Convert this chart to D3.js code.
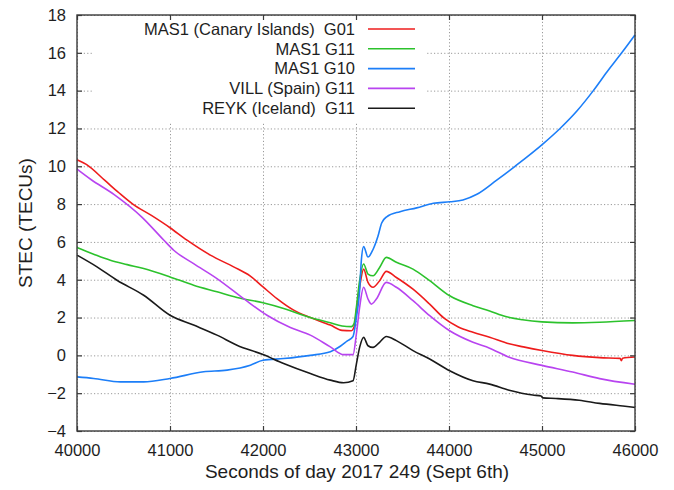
<!DOCTYPE html>
<meta charset="utf-8">
<head>
    <script src="https://d3js.org/d3.v7.min.js"></script>
    <style>
        body {
            margin: 0px;
            padding: 0px;
            background: white;
            font-family: 'Liberation Sans', Arial, sans-serif;
        }

        .tick text {
            font-size: 16.5px;
            fill: #1e1e1e;
        }

        .grid line {
            stroke: #9a9a9a;
            stroke-width: 1;
            stroke-dasharray: 1.2, 2.2;
        }
    </style>
    <title>STEC</title>
</head>

<body>
    <div id="chart"></div>

    <script>
        // series: [seconds of day, STEC]
        var mas1G01 = [[40000, 10.35], [40100, 10.1], [40300, 9.25], [40450, 8.6], [40600, 8.0], [40800, 7.4],
            [41000, 6.75], [41183, 6.09], [41434, 5.3], [41684, 4.68], [41864, 4.19], [42000, 3.62], [42150, 3.0],
            [42330, 2.39], [42509, 2.0], [42724, 1.6], [42850, 1.32], [42950, 1.3], [42985, 1.6], [43004, 2.36],
            [43039, 3.6], [43082, 4.56], [43129, 3.86], [43183, 3.6], [43254, 3.95], [43326, 4.44], [43434, 4.12],
            [43613, 3.5], [43792, 2.71], [43950, 1.95], [44100, 1.5], [44258, 1.22], [44437, 0.96], [44647, 0.61],
            [44800, 0.45], [45000, 0.26], [45330, 0.0], [45620, -0.12], [45840, -0.16], [45853, -0.28], [45866, -0.15],
            [46000, -0.09]];

        var mas1G11 = [[40000, 5.7], [40179, 5.35], [40358, 5.03], [40540, 4.8], [40717, 4.59], [41000, 4.15],
            [41254, 3.71], [41505, 3.36], [41720, 3.06], [42000, 2.78], [42222, 2.48], [42509, 2.0], [42724, 1.72],
            [42850, 1.55], [42950, 1.52], [42980, 1.7], [43004, 2.54], [43039, 3.95], [43082, 4.83], [43129, 4.3],
            [43183, 4.21], [43254, 4.65], [43326, 5.18], [43434, 4.92], [43613, 4.56], [43792, 3.95], [44007, 3.15],
            [44258, 2.63], [44437, 2.35], [44610, 2.05], [44790, 1.88], [45000, 1.77], [45330, 1.72], [45620, 1.75],
            [46000, 1.84]];

        var mas1G10 = [[40000, -1.14], [40179, -1.22], [40466, -1.4], [40717, -1.4], [41000, -1.22], [41362, -0.87],
            [41613, -0.78], [41864, -0.52], [42000, -0.26], [42222, -0.17], [42509, 0.0], [42724, 0.19], [42831, 0.48],
            [42903, 0.75], [42968, 1.0], [43004, 2.0], [43039, 3.42], [43057, 5.0], [43082, 5.75], [43129, 5.2],
            [43183, 5.6], [43236, 6.3], [43276, 7.0], [43330, 7.33], [43473, 7.6], [43652, 7.8], [43832, 8.04],
            [44011, 8.12], [44150, 8.22], [44300, 8.52], [44513, 9.27], [44710, 10.0], [45014, 11.2], [45194, 12.0],
            [45380, 12.95], [45552, 14.0], [45700, 15.0], [45857, 16.0], [46000, 16.95]];

        var villG11 = [[40000, 9.85], [40150, 9.3], [40400, 8.5], [40700, 7.3], [40932, 6.1], [41040, 5.56],
            [41254, 4.85], [41505, 4.06], [41792, 3.0], [42043, 2.12], [42294, 1.47], [42509, 1.07], [42724, 0.45],
            [42867, 0.04], [42968, 0.04], [43004, 1.13], [43039, 2.54], [43082, 3.6], [43129, 2.98], [43165, 2.71],
            [43219, 2.98], [43326, 3.86], [43434, 3.6], [43613, 2.89], [43792, 2.1], [44007, 1.3], [44258, 0.69],
            [44437, 0.38], [44647, -0.1], [45000, -0.53], [45330, -0.88], [45620, -1.23], [46000, -1.53]];

        var reykG11 = [[40000, 5.3], [40215, 4.68], [40430, 3.97], [40717, 3.18], [41000, 2.12], [41254, 1.6],
            [41505, 1.07], [41720, 0.54], [42000, 0.04], [42222, -0.43], [42509, -0.96], [42724, -1.31], [42867, -1.45],
            [42968, -1.34], [43004, -0.46], [43039, 0.42], [43082, 0.95], [43129, 0.51], [43183, 0.42], [43254, 0.69],
            [43326, 1.0], [43434, 0.78], [43613, 0.25], [43792, -0.19], [44007, -0.81], [44258, -1.34], [44437, -1.52],
            [44647, -1.84], [44900, -2.1], [44990, -2.15], [45010, -2.25], [45150, -2.28], [45400, -2.37],
            [45620, -2.54], [45870, -2.68], [46000, -2.75]];

        var seriesNames = ["MAS1 (Canary Islands)  G01", "MAS1 G11", "MAS1 G10", "VILL (Spain) G11", "REYK (Iceland)  G11"];
        var seriesData = [mas1G01, mas1G11, mas1G10, villG11, reykG11];

        var xTicks = [40000, 41000, 42000, 43000, 44000, 45000, 46000];
        var yTicks = [-4, -2, 0, 2, 4, 6, 8, 10, 12, 14, 16, 18];

        var xTitle = "Seconds of day 2017 249 (Sept 6th)";
        var yTitle = "STEC (TECUs)";

        // styles
        var colors = ["#ee1c1c", "#2cc22c", "#1c7ef8", "#b844f0", "#1a1a1a"];

        var W = 674, H = 490;
        var pLeft = 77, pRight = 635, pTop = 15, pBottom = 431;

        var svg = d3.select("#chart").append("svg")
            .attr("width", W)
            .attr("height", H);

        var x = d3.scaleLinear().domain([40000, 46000]).range([pLeft, pRight]);
        var y = d3.scaleLinear().domain([-4, 18]).range([pBottom, pTop]);

        //dotted grid
        svg.append("g")
            .attr("class", "grid")
            .attr("transform", "translate(0," + pBottom + ")")
            .call(d3.axisBottom(x).tickValues(xTicks).tickSize(-(pBottom - pTop)).tickFormat(""))
            .call(function (g) { g.select(".domain").remove(); });

        svg.append("g")
            .attr("class", "grid")
            .attr("transform", "translate(" + pLeft + ",0)")
            .call(d3.axisLeft(y).tickValues(yTicks).tickSize(-(pRight - pLeft)).tickFormat(""))
            .call(function (g) { g.select(".domain").remove(); });

        //opaque key box hides the grid behind it
        svg.append("rect")
            .attr("x", 92)
            .attr("y", pTop + 1)
            .attr("width", 427 - 92)
            .attr("height", 121 - pTop)
            .style("fill", "white");

        //data lines
        var line = d3.line()
            .x(function (d) { return x(d[0]); })
            .y(function (d) { return y(d[1]); })
            .curve(d3.curveMonotoneX);

        seriesData.forEach(function (s, i) {
            svg.append("path")
                .datum(s)
                .attr("d", line)
                .style("fill", "none")
                .style("stroke", colors[i])
                .style("stroke-width", 1.6)
                .style("stroke-linejoin", "round");
        });

        //axes with inward ticks, mirrored on top and right
        var axisColor = "#3a3a3a";

        function styleAxis(g) {
            g.select(".domain").remove();
            g.selectAll(".tick line").style("stroke", axisColor).style("stroke-width", 1.2);
        }

        svg.append("g")
            .attr("transform", "translate(0," + pBottom + ")")
            .call(d3.axisBottom(x).tickValues(xTicks).tickSize(-5).tickPadding(13).tickFormat(d3.format("d")))
            .call(styleAxis)
            .selectAll("text").style("font-family", "'Liberation Sans', Arial, sans-serif");

        svg.append("g")
            .attr("transform", "translate(" + pLeft + ",0)")
            .call(d3.axisLeft(y).tickValues(yTicks).tickSize(-5).tickPadding(11).tickFormat(d3.format("d")))
            .call(styleAxis)
            .selectAll("text").style("font-family", "'Liberation Sans', Arial, sans-serif");

        svg.append("g")
            .attr("transform", "translate(0," + pTop + ")")
            .call(d3.axisTop(x).tickValues(xTicks).tickSize(-5).tickFormat(""))
            .call(styleAxis);

        svg.append("g")
            .attr("transform", "translate(" + pRight + ",0)")
            .call(d3.axisRight(y).tickValues(yTicks).tickSize(-5).tickFormat(""))
            .call(styleAxis);

        svg.append("rect")
            .attr("x", pLeft)
            .attr("y", pTop)
            .attr("width", pRight - pLeft)
            .attr("height", pBottom - pTop)
            .style("fill", "none")
            .style("stroke", axisColor)
            .style("stroke-width", 1.4);

        //key
        var key = svg.append("g");
        seriesNames.forEach(function (name, i) {
            var ry = 29 + i * 19.8;
            key.append("text")
                .attr("x", 355)
                .attr("y", ry + 5.8)
                .attr("text-anchor", "end")
                .style("white-space", "pre")
                .style("font-size", "16.5px")
                .style("fill", "#1e1e1e")
                .text(name);
            key.append("line")
                .attr("x1", 368)
                .attr("x2", 415)
                .attr("y1", ry)
                .attr("y2", ry)
                .style("stroke", colors[i])
                .style("stroke-width", 1.6);
        });

        //axis titles
        svg.append("text")
            .attr("x", (pLeft + pRight) / 2 + 1)
            .attr("y", 478)
            .attr("text-anchor", "middle")
            .style("font-size", "19px")
            .style("fill", "#1e1e1e")
            .text(xTitle);

        svg.append("text")
            .attr("transform", "translate(32," + 223 + ") rotate(-90)")
            .attr("text-anchor", "middle")
            .style("font-size", "19px")
            .style("fill", "#1e1e1e")
            .text(yTitle);
    </script>
</body>
